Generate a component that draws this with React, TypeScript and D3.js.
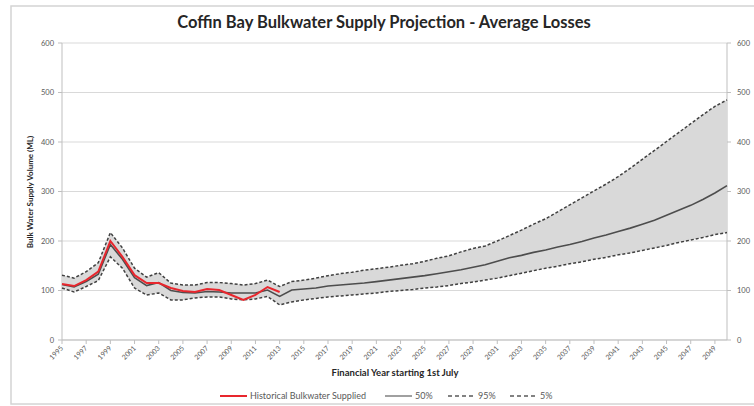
import React from 'react';
import * as d3 from 'd3';

const years = [
  1995, 1996, 1997, 1998, 1999, 2000, 2001, 2002, 2003, 2004, 2005, 2006, 2007, 2008,
  2009, 2010, 2011, 2012, 2013, 2014, 2015, 2016, 2017, 2018, 2019, 2020, 2021, 2022,
  2023, 2024, 2025, 2026, 2027, 2028, 2029, 2030, 2031, 2032, 2033, 2034, 2035, 2036,
  2037, 2038, 2039, 2040, 2041, 2042, 2043, 2044, 2045, 2046, 2047, 2048, 2049, 2050,
];

const historical = [113, 109, 121, 138, 200, 168, 131, 115, 115, 105, 99, 97, 103, 101, 91, 81, 91, 107, 97];

const p50 = [
  112, 107, 118, 133, 193, 163, 126, 110, 116, 100, 96, 95, 98, 97, 95, 95, 95, 101, 88,
  101, 103, 105, 109, 111, 113, 115, 118, 121, 124,
  127, 130, 134, 138, 142, 147, 152, 159, 166, 171,
  177, 182, 188, 193, 199, 206, 212, 219, 226, 234,
  242, 252, 262, 272, 284, 297, 312,
];

const p95 = [
  131, 125, 138, 156, 217, 186, 145, 127, 136, 115, 111, 111, 116, 116, 114, 111, 114, 121, 108,
  118, 121, 125, 130, 134, 137, 141, 144, 147, 151,
  154, 159, 165, 170, 178, 185, 190, 200, 211, 222,
  234, 245, 259, 273, 287, 301, 315, 330, 347, 365,
  383, 401, 419, 437, 455, 472, 485,
];

const p5 = [
  105, 97, 108, 120, 168, 145, 105, 91, 95, 81, 81, 85, 87, 87, 83, 81, 83, 88, 71,
  77, 81, 84, 87, 89, 91, 93, 95, 98, 100,
  102, 105, 107, 110, 114, 117, 121, 125, 130, 135,
  140, 145, 149, 154, 158, 163, 167, 172, 176, 181,
  186, 191, 197, 202, 207, 213, 217,
];

const yTicks = [0, 100, 200, 300, 400, 500, 600];
const xLabelYears = [
  1995, 1997, 1999, 2001, 2003, 2005, 2007, 2009, 2011, 2013, 2015, 2017, 2019, 2021,
  2023, 2025, 2027, 2029, 2031, 2033, 2035, 2037, 2039, 2041, 2043, 2045, 2047, 2049,
];

const title = 'Coffin Bay Bulkwater Supply Projection - Average Losses';
const yTitle = 'Bulk Water Supply Volume (ML)';
const xTitle = 'Financial Year starting 1st July';
const legendItems = [
  { label: 'Historical Bulkwater Supplied', kind: 'red' },
  { label: '50%', kind: 'solid' },
  { label: '95%', kind: 'dash' },
  { label: '5%', kind: 'dash' },
];

const W = 754;
const H = 406;
const M = { left: 62, right: 727, top: 43, bottom: 340 };
const FONT = 'Lato, "Open Sans", sans-serif';

export default function App() {
  const x = d3.scaleLinear().domain([1995, 2050]).range([M.left, M.right]);
  const y = d3.scaleLinear().domain([0, 600]).range([M.bottom, M.top]);

  const band = d3
    .area<number>()
    .x((_, i) => x(years[i]))
    .y0((_, i) => y(p5[i]))
    .y1((d) => y(d));
  const line = d3
    .line<number>()
    .x((_, i) => x(years[i]))
    .y((d) => y(d));

  const legendX = [220, 385, 448, 510];
  const legendLineW = [27, 27, 27, 27];

  return (
    <svg width={W} height={H} style={{ position: 'absolute', left: 0, top: 0, background: '#fff' }}>
      <rect x={11} y={6} width={760} height={398} fill="#fff" stroke="#d4d4d4" strokeWidth={1.5} />
      <text x={384} y={28} textAnchor="middle" fontFamily={FONT} fontWeight="bold" fontSize={16.5} fill="#262626">
        {title}
      </text>

      {/* gridlines */}
      {yTicks.map((t) => (
        <line key={'g' + t} x1={M.left} x2={M.right} y1={y(t)} y2={y(t)} stroke="#d9d9d9" strokeWidth={1} />
      ))}
      {/* axes */}
      <line x1={M.left} x2={M.left} y1={M.top} y2={M.bottom} stroke="#bfbfbf" />
      <line x1={M.right} x2={M.right} y1={M.top} y2={M.bottom} stroke="#bfbfbf" />
      <line x1={M.left} x2={M.right} y1={M.bottom} y2={M.bottom} stroke="#bfbfbf" />
      {yTicks.map((t) => (
        <g key={'yt' + t}>
          <line x1={M.left - 4} x2={M.left} y1={y(t)} y2={y(t)} stroke="#bfbfbf" />
          <line x1={M.right} x2={M.right + 4} y1={y(t)} y2={y(t)} stroke="#bfbfbf" />
          <text x={M.left - 8} y={y(t)} dy="0.35em" textAnchor="end" fontFamily={FONT} fontSize={7.5} fill="#595959">
            {t}
          </text>
          <text x={M.right + 10} y={y(t)} dy="0.35em" textAnchor="start" fontFamily={FONT} fontSize={7.5} fill="#595959">
            {t}
          </text>
        </g>
      ))}
      {xLabelYears.map((yr) => (
        <g key={'xt' + yr}>
          <line x1={x(yr)} x2={x(yr)} y1={M.bottom} y2={M.bottom + 4} stroke="#bfbfbf" />
          <text
            transform={`translate(${x(yr)},${M.bottom + 7}) rotate(-45)`}
            textAnchor="end"
            dy="0.35em"
            fontFamily={FONT}
            fontSize={7}
            fill="#595959"
          >
            {yr}
          </text>
        </g>
      ))}

      {/* band */}
      <path d={band(p95) || ''} fill="#d9d9d9" />
      <path d={line(p95) || ''} fill="none" stroke="#404040" strokeWidth={1.5} strokeDasharray="3,2" />
      <path d={line(p5) || ''} fill="none" stroke="#404040" strokeWidth={1.5} strokeDasharray="3,2" />
      <path d={line(p50) || ''} fill="none" stroke="#4d4d4d" strokeWidth={1.6} />
      <path d={line(historical) || ''} fill="none" stroke="#e8262d" strokeWidth={2} />

      {/* axis titles */}
      <text
        transform={`translate(30,192) rotate(-90)`}
        textAnchor="middle"
        dy="0.35em"
        fontFamily={FONT}
        fontWeight="bold"
        fontSize={8}
        fill="#262626"
      >
        {yTitle}
      </text>
      <text x={395} y={373} dy="0.35em" textAnchor="middle" fontFamily={FONT} fontWeight="bold" fontSize={9.5} fill="#262626">
        {xTitle}
      </text>

      {/* legend */}
      {legendItems.map((it, i) => {
        const lx = legendX[i];
        const ly = 396;
        return (
          <g key={'lg' + i}>
            <line
              x1={lx}
              x2={lx + legendLineW[i]}
              y1={ly}
              y2={ly}
              stroke={it.kind === 'red' ? '#e8262d' : it.kind === 'solid' ? '#808080' : '#595959'}
              strokeWidth={it.kind === 'red' ? 2 : 1.5}
              strokeDasharray={it.kind === 'dash' ? '4,3' : undefined}
            />
            <text x={lx + legendLineW[i] + 3} y={ly} dy="0.35em" fontFamily={FONT} fontSize={9} fill="#595959">
              {it.label}
            </text>
          </g>
        );
      })}
    </svg>
  );
}
